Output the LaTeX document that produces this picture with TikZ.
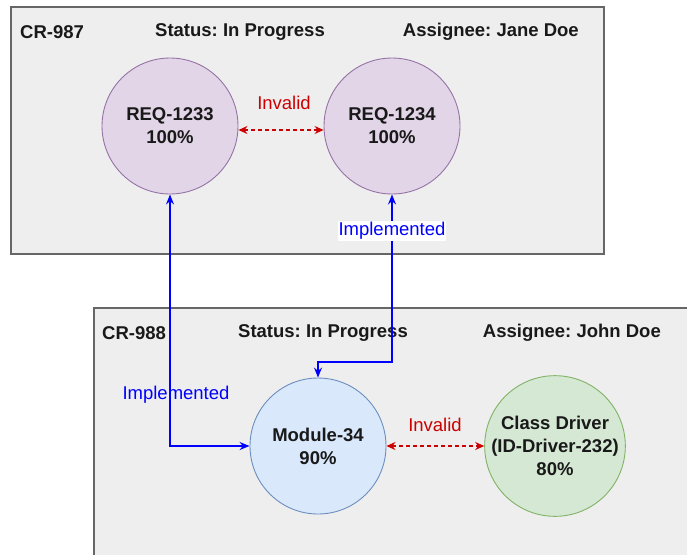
\documentclass[tikz,border=0pt]{standalone}
\usepackage{fontspec}
\setmainfont{Liberation Sans}
\frenchspacing
\usetikzlibrary{arrows.meta}
\definecolor{panelfill}{HTML}{EEEEEE}
\definecolor{panelline}{HTML}{666666}
\definecolor{reqfill}{HTML}{E1D5E7}
\definecolor{reqline}{HTML}{9673A6}
\definecolor{modfill}{HTML}{DAE8FC}
\definecolor{modline}{HTML}{6C8EBF}
\definecolor{drvfill}{HTML}{D5E8D4}
\definecolor{drvline}{HTML}{82B366}
\definecolor{invred}{HTML}{CC0000}
\definecolor{implblue}{HTML}{0000FF}
\tikzset{
  panel/.style={draw=panelline, fill=panelfill, line width=1.3pt},
  hdr/.style={font=\bfseries\fontsize{18.5}{22}\selectfont, text=black!90, inner sep=0pt},
  item/.style={circle, minimum size=136pt, inner sep=0pt, align=center, line width=0.9pt,
    font=\bfseries\fontsize{18.5}{23}\selectfont, text=black!90},
  reqnode/.style={item, draw=reqline, fill=reqfill},
  modnode/.style={item, draw=modline, fill=modfill},
  drvnode/.style={item, draw=drvline, fill=drvfill},
  invalid/.style={draw=invred, line width=1.2pt, dash pattern=on 4pt off 3pt,
    {Stealth[length=9pt,width=8pt]}-{Stealth[length=9pt,width=8pt]}},
  impl/.style={draw=implblue, line width=1.2pt,
    {Stealth[length=10pt,width=8pt]}-{Stealth[length=10pt,width=8pt]}},
  invlabel/.style={text=invred, font=\fontsize{18.5}{22}\selectfont, inner sep=1pt},
  impllabel/.style={text=implblue, font=\fontsize{18.5}{22}\selectfont, inner sep=1pt},
}
\begin{document}
\begin{tikzpicture}[x=1pt, y=-1pt]
\useasboundingbox (0,0) rectangle (687,554);
\fill[white] (0,0) rectangle (687,554);

% change request panels
\draw[panel] (11,7) rectangle (604,254);
\draw[panel] (94,308) rectangle (700,570);

% panel headers
\node[hdr, anchor=west] (cr1) at (20,32) {CR-987};
\node[hdr] (st1) at (240,32) {Status: In Progress};
\node[hdr, anchor=east] (as1) at (579,32) {Assignee: Jane Doe};
\node[hdr, anchor=west] (cr2) at (102,333) {CR-988};
\node[hdr] (st2) at (323,333) {Status: In Progress};
\node[hdr, anchor=east] (as2) at (661,333) {Assignee: John Doe};

% items
\node[reqnode] (r1) at (170,126) {REQ-1233\\100\%};
\node[reqnode] (r2) at (392,126) {REQ-1234\\100\%};
\node[modnode] (m) at (318,446) {Module-34\\90\%};
\node[drvnode] (d) at (555,446) {Class Driver\\(ID-Driver-232)\\80\%};

% invalid relations
\draw[invalid] (r1.east |- 0,130) -- (r2.west |- 0,130);
\node[invlabel] (inv1) at (284,103) {Invalid};
\draw[invalid] (m.east) -- (d.west);
\node[invlabel] (inv2) at (435,425) {Invalid};

% implementation links
\coordinate (k1) at (170,446);
\coordinate (k2) at (392,362);
\coordinate (k3) at (318,362);
\draw[impl] (r1.south) -- (k1) -- (m.west);
\draw[impl] (r2.south) -- (k2) -- (k3) -- (m.north);
\node[impllabel, fill=white] (im1) at (392,231) {Implemented};
\node[impllabel] (im2) at (176,395) {Implemented};
\end{tikzpicture}
\end{document}
